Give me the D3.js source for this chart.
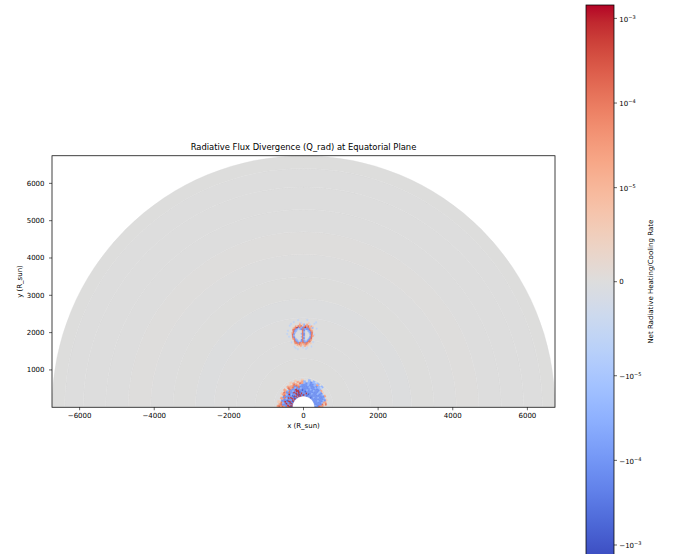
<!DOCTYPE html>
<html>
<head>
<meta charset="utf-8">
<script src="https://cdn.jsdelivr.net/npm/d3@7"></script>
<style>
  body { margin: 0; background: #fff; }
  svg { display: block; }
  text { font-family: "DejaVu Sans", "Liberation Sans", sans-serif; fill: #000; }
</style>
</head>
<body>
<svg id="chart" width="673" height="554"></svg>
<script>
// ---- axis ticks ----
const xTicks = [-6000, -4000, -2000, 0, 2000, 4000, 6000];
const yTicks = [1000, 2000, 3000, 4000, 5000, 6000];
const cbarTicks = [-1e-3, -1e-4, -1e-5, 0, 1e-5, 1e-4, 1e-3];

// ---- simulation domain (R_sun) ----
const innerRadius = 300;
const outerRadius = 6740;

// ---- colour normalisation (symmetric log) ----
const colorLimits = [-1.44e-3, 1.44e-3];
const linThreshold = 1e-5;

// ---- background shells: radial edges and near-zero Q_rad ----
const shellEdges  = [300, 800, 1300, 1800, 2400, 2900, 3500, 4100, 4700, 5300, 5900, 6400, 6740];
const shellValues = [0, 1e-7, -1e-7, 5e-8, -1.2e-7, 1e-7, -5e-8, 1.2e-7, -1e-7, 5e-8, -5e-8, 1e-7];

// ---- Q_rad levels used in the cell tables ----
const levelCodes  = ["R", "r", "o", "g", ".", "f", "c", "b", "B"];
const levelValues = [8e-4, 1.2e-4, 2.5e-5, 6e-6, 0, -6e-6, -2.5e-5, -1.2e-4, -8e-4];

// ---- inner envelope around the star: rows from outer to inner radius,
//      columns from 180 deg (left) to 0 deg (right) ----
const coreRadii = [300, 760];
const coreAngles = [180, 0];
const coreRows = [
  "............g.g..g..c.cfc.c.........",
  "o.g...g.o.og.o.ogocacbccocf.........",
  "rog.o.oro.roorogrocbcbbcbccog.o.g...",
  "orrbobrobcrorbrocbbbcbbbcbbcbcbcbor.",
  "rbcbbrbcbrbbbcbrbbbbbcbbbbbcbbbbcog.",
  "obbRbcbbRbbcbRbbcbbbbbcbcbbcbbbbbcro",
  "bbRbBbRbbcbRbRRbbBbbcbbbbbbbbcbbbbbo",
  "rRbbRbbRbBbbRbRBbbbBbbbbcbbbbbbcbbbr",
  "RbrBRbbRbBRbRBRbRbbbRbBbbbbcbbbbbbbb",
  "BRbRbBRbRBbRbRBRbBRbbBbbbBbbbbbbbbcb"
];

// ---- off-axis clump near (0, 1950): rows from outer to inner radius ----
const blobRadii = [1500, 2400];
const blobAngles = [104, 76];
const blobRows = [
  "............................",
  "..........f.....f...........",
  ".......f..............f.....",
  ".....f.....gf....g...f......",
  "....f......o.gc.o.f.........",
  "........ogrorgcror.og.......",
  "......gorRbrcbrRbro.c..f....",
  "..f...rrbcfcbrbcbbrog.......",
  "......rbc....rb..cbro.......",
  ".f...orc.....rc...cbr.......",
  ".....rb.....crb....br.f.....",
  "..f..rc......rb....cro......",
  ".....rb.....crc....br.......",
  ".....orc.....rb...cbr.......",
  "......rbc...brc..cbro.......",
  "...f..rrbcfcbrbccbrr..f.....",
  "......orrbrrorrbrro.g.......",
  ".......gooroogoorog.........",
  ".....f...g.o..go.g...f......",
  "......f......f...f..........",
  "........f.......f...........",
  "............................"
];

// ---- coolwarm colour map anchors ----
const coolwarmStops = [
  "#3b4cc0","#445acc","#4d68d7","#5775e1","#6282ea","#6c8ef1","#779af7","#82a5fb",
  "#8db0fe","#98b9ff","#a3c2ff","#aec9fd","#b8d0f9","#c2d5f4","#ccd9ee","#d5dbe6",
  "#dddddd","#e5d8d1","#ecd3c5","#f1ccb8","#f5c4ac","#f7bb9f","#f7b193","#f7a686",
  "#f49a7b","#f18d6f","#ec7f63","#e57058","#de604d","#d55042","#cb3e38","#c0282f",
  "#b40426"
];

// ---------------------------------------------------------------
const svg = d3.select("#chart");
const plot = { left: 52, right: 555, top: 155.75, bottom: 407.25 };
const cbar = { left: 586, right: 614, top: 5, bottom: 558.4 };

const x = d3.scaleLinear().domain([-outerRadius, outerRadius]).range([plot.left, plot.right]);
const y = d3.scaleLinear().domain([0, outerRadius]).range([plot.bottom, plot.top]);
const k = x(1) - x(0); // pixels per R_sun (equal aspect)

// symmetric-log transform as used by the colour normalisation
const linScale = 1 / (1 - 1 / 10);
function symlog(v) {
  const a = Math.abs(v);
  if (a <= linThreshold) return v / linThreshold * linScale;
  return Math.sign(v) * (linScale + Math.log10(a / linThreshold));
}
const norm = d3.scaleLinear().domain([symlog(colorLimits[0]), symlog(colorLimits[1])]).range([0, 1]).clamp(true);
const cmap = d3.piecewise(d3.interpolateRgb, coolwarmStops);
const colorOf = v => cmap(norm(symlog(v)));
const valueOf = Object.fromEntries(levelCodes.map((c, i) => [c, levelValues[i]]));

const deg = Math.PI / 180;
const arc = d3.arc()
  .innerRadius(d => k * d.r0)
  .outerRadius(d => k * d.r1)
  .startAngle(d => Math.PI / 2 - d.t0 * deg)
  .endAngle(d => Math.PI / 2 - d.t1 * deg);

// build polar cells from a row table
function tableCells(rows, radii, angles) {
  const dr = (radii[1] - radii[0]) / rows.length;
  const cells = [];
  rows.forEach((row, i) => {
    const r1 = radii[1] - i * dr, r0 = r1 - dr;
    const n = row.length;
    for (let j = 0; j < n; j++) {
      const t0 = angles[0] + (angles[1] - angles[0]) * j / n;
      const t1 = angles[0] + (angles[1] - angles[0]) * (j + 1) / n;
      cells.push({ r0, r1, t0, t1, v: valueOf[row[j]] ?? 0 });
    }
  });
  return cells;
}

const shells = shellValues.map((v, i) => ({ r0: shellEdges[i], r1: shellEdges[i + 1], t0: 180, t1: 0, v }));

svg.append("clipPath").attr("id", "plotClip")
  .append("rect").attr("x", plot.left).attr("y", plot.top)
  .attr("width", plot.right - plot.left).attr("height", plot.bottom - plot.top);

const field = svg.append("g").attr("clip-path", "url(#plotClip)")
  .append("g").attr("transform", `translate(${x(0)},${y(0)})`);

function drawCells(cells) {
  field.append("g").selectAll("path").data(cells).join("path")
    .attr("d", arc)
    .attr("fill", d => colorOf(d.v))
    .attr("stroke", d => colorOf(d.v))
    .attr("stroke-width", 0.35);
}
drawCells(shells);
drawCells(tableCells(coreRows, coreRadii, coreAngles).filter(d => d.v !== 0));
drawCells(tableCells(blobRows, blobRadii, blobAngles).filter(d => d.v !== 0));

// ---- axes ----
const fmt = v => (v < 0 ? "\u2212" : "") + Math.abs(v);
const ax = svg.append("g");
ax.append("rect").attr("x", plot.left).attr("y", plot.top)
  .attr("width", plot.right - plot.left).attr("height", plot.bottom - plot.top)
  .attr("fill", "none").attr("stroke", "#000").attr("stroke-width", 0.75);

const xt = ax.append("g").selectAll("g").data(xTicks).join("g")
  .attr("transform", d => `translate(${x(d)},${plot.bottom})`);
xt.append("line").attr("y2", 3).attr("stroke", "#000").attr("stroke-width", 0.6);
xt.append("text").attr("y", 11.2).attr("text-anchor", "middle").attr("font-size", 7).text(fmt);

const yt = ax.append("g").selectAll("g").data(yTicks).join("g")
  .attr("transform", d => `translate(${plot.left},${y(d)})`);
yt.append("line").attr("x2", -3).attr("stroke", "#000").attr("stroke-width", 0.6);
yt.append("text").attr("x", -7.5).attr("y", 2.5).attr("text-anchor", "end").attr("font-size", 7).text(fmt);

svg.append("text").attr("x", (plot.left + plot.right) / 2).attr("y", 427.5)
  .attr("text-anchor", "middle").attr("font-size", 7).text("x (R_sun)");
svg.append("text").attr("transform", `translate(21.5,${(plot.top + plot.bottom) / 2}) rotate(-90)`)
  .attr("text-anchor", "middle").attr("font-size", 7).text("y (R_sun)");
svg.append("text").attr("x", (plot.left + plot.right) / 2).attr("y", 149.8)
  .attr("text-anchor", "middle").attr("font-size", 8.4)
  .text("Radiative Flux Divergence (Q_rad) at Equatorial Plane");

// ---- colour bar ----
const cb = d3.scaleLinear().domain([symlog(colorLimits[0]), symlog(colorLimits[1])])
  .range([cbar.bottom, cbar.top]);
const grad = svg.append("defs").append("linearGradient").attr("id", "cbGrad")
  .attr("x1", 0).attr("y1", 1).attr("x2", 0).attr("y2", 0);
grad.selectAll("stop").data(coolwarmStops).join("stop")
  .attr("offset", (d, i) => i / (coolwarmStops.length - 1))
  .attr("stop-color", d => d);
svg.append("rect").attr("x", cbar.left).attr("y", cbar.top)
  .attr("width", cbar.right - cbar.left).attr("height", cbar.bottom - cbar.top)
  .attr("fill", "url(#cbGrad)").attr("stroke", "#000").attr("stroke-width", 0.75);

const ct = svg.append("g").selectAll("g").data(cbarTicks).join("g")
  .attr("transform", d => `translate(${cbar.right},${cb(symlog(d))})`);
ct.append("line").attr("x2", 3).attr("stroke", "#000").attr("stroke-width", 0.6);
const ctText = ct.append("text").attr("x", 5.3).attr("y", d => d === 0 ? 2.5 : 3.2).attr("font-size", 7);
ctText.each(function (d) {
  const t = d3.select(this);
  if (d === 0) { t.text("0"); return; }
  const e = Math.round(Math.log10(Math.abs(d)));
  t.append("tspan").text((d < 0 ? "\u2212" : "") + "10");
  t.append("tspan").attr("dy", -3).attr("font-size", 5).text("\u2212" + Math.abs(e));
});
svg.append("text").attr("transform", `translate(653,${(cbar.top + cbar.bottom) / 2}) rotate(-90)`)
  .attr("text-anchor", "middle").attr("font-size", 7).text("Net Radiative Heating/Cooling Rate");
</script>
</body>
</html>
